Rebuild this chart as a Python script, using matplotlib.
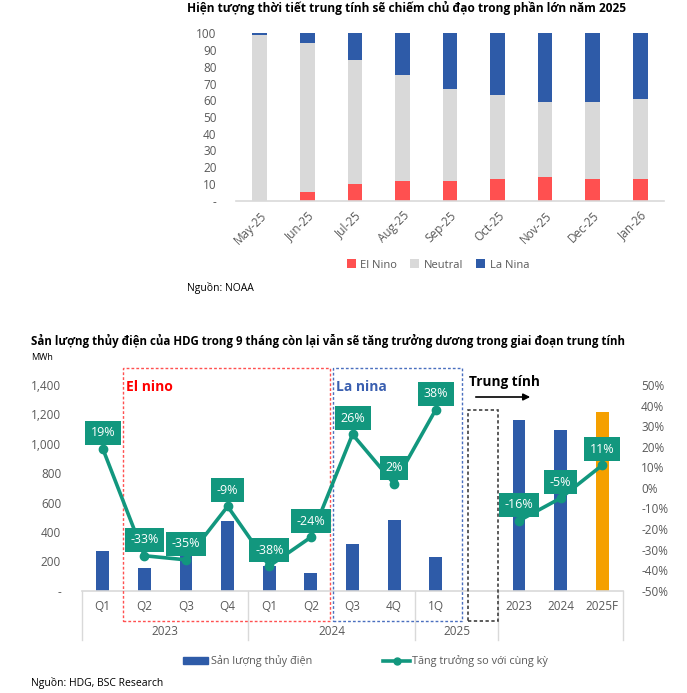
import numpy as np
import matplotlib.pyplot as plt
from matplotlib.patches import Rectangle
from matplotlib.lines import Line2D
import matplotlib.transforms as mtransforms

plt.rcParams['font.family'] = ['Open Sans', 'DejaVu Sans']

# top chart data (NOAA probabilities, %)
months = ['May-25', 'Jun-25', 'Jul-25', 'Aug-25', 'Sep-25', 'Oct-25', 'Nov-25', 'Dec-25', 'Jan-26']
el_nino = [0, 5, 10, 12, 12, 13, 14, 13, 13]
neutral = [99, 89, 74, 63, 55, 50, 45, 46, 48]
la_nina = [1, 6, 16, 25, 33, 37, 41, 41, 39]

# bottom chart data
periods = ['Q1', 'Q2', 'Q3', 'Q4', 'Q1', 'Q2', 'Q3', '4Q', '1Q', '', '2023', '2024', '2025F']
output = [270, 157, 270, 475, 168, 118, 318, 481, 229, np.nan, 1163, 1095, 1217]
growth = [19, -33, -35, -9, -38, -24, 26, 2, 38, np.nan, -16, -5, 11]
years = ['2023', '2024', '2025']
year_centers = [1.5, 5.5, 8.5]
separators = [-0.5, 3.5, 7.5, 9.5, 12.5]

RED = '#FF5050'
GREY = '#D9D9D9'
BLUE = '#2E5BA8'
ORANGE = '#F5A000'
TEAL = '#12977E'
TXT = '#595959'

W, H = 687, 693
fig = plt.figure(figsize=(W / 100, H / 100), dpi=100)


def fx(px):
    return px / W


def fy(py):
    return 1 - py / H


# ---------------- top chart ----------------
ax1 = fig.add_axes([fx(236), fy(200.7), fx(664 - 236), (200.7 - 33.3) / H])
x = np.arange(len(months))
ax1.bar(x, el_nino, 0.31, color=RED, label='El Nino')
ax1.bar(x, neutral, 0.31, bottom=el_nino, color=GREY, label='Neutral')
ax1.bar(x, la_nina, 0.31, bottom=np.add(el_nino, neutral), color=BLUE, label='La Nina')
ax1.set_xlim(-0.5, len(months) - 0.5)
ax1.set_ylim(0, 100)
ax1.set_yticks(range(0, 101, 10))
ax1.set_yticklabels(['-'] + [str(v) for v in range(10, 101, 10)], color=TXT, fontsize=8.5)
ax1.set_xticks(x)
ax1.set_xticklabels(months, rotation=45, ha='right', rotation_mode='anchor', color=TXT, fontsize=8.5)
ax1.tick_params(length=0)
ax1.tick_params(axis='y', pad=14)
ax1.tick_params(axis='x', pad=6)
for s in ['top', 'right', 'left']:
    ax1.spines[s].set_visible(False)
ax1.spines['bottom'].set_color(GREY)
ax1.spines['bottom'].set_linewidth(1.2)

fig.text(fx(187), fy(8), 'Hiện tượng thời tiết trung tính sẽ chiếm chủ đạo trong phần lớn năm 2025',
         fontsize=8.6, fontweight='bold', va='center', ha='left')
fig.legend(*ax1.get_legend_handles_labels(), loc='center', bbox_to_anchor=(fx(438), fy(265)),
           ncol=3, frameon=False, fontsize=8, handlelength=0.8, handleheight=0.8,
           columnspacing=1.2, handletextpad=0.4, labelcolor=TXT)
fig.text(fx(187), fy(288), 'Nguồn: NOAA', fontsize=7.5, va='center', ha='left')

# ---------------- bottom chart ----------------
ax = fig.add_axes([fx(82), fy(590.7), fx(623 - 82), 205.7 / H])
xb = np.arange(len(periods))
colors = [BLUE] * 12 + [ORANGE]
ax.bar(xb, output, 0.31, color=colors)
ax.set_xlim(-0.5, len(periods) - 0.5)
ax.set_ylim(0, 1400)
ax.set_yticks(range(0, 1401, 200))
ax.set_yticklabels(['-'] + [f'{v:,}' for v in range(200, 1401, 200)], color=TXT, fontsize=8.5)
ax.tick_params(length=0)
ax.tick_params(axis='y', pad=15)
ax.set_xticks([])
for s in ['top', 'right', 'left']:
    ax.spines[s].set_visible(False)
ax.spines['bottom'].set_color(GREY)
ax.spines['bottom'].set_linewidth(1.2)

ax2 = ax.twinx()
ax2.plot(xb, np.array(growth) / 100, color=TEAL, lw=2.6, marker='o', ms=6)
ax2.set_ylim(-0.5, 0.5)
ax2.set_yticks(np.arange(-0.5, 0.51, 0.1))
ax2.set_yticklabels([f'{round(v * 100)}%' for v in np.arange(-0.5, 0.51, 0.1)], color=TXT, fontsize=8.5)
ax2.tick_params(length=0, pad=13)
for s in ax2.spines.values():
    s.set_visible(False)
for xi, g in zip(xb, growth):
    if np.isnan(g):
        continue
    ax2.annotate(f'{g}%', (xi, g / 100), xytext=(0, 16), textcoords='offset pixels',
                 ha='center', va='center', color='white', fontsize=9,
                 bbox=dict(boxstyle='square,pad=0.45', fc=TEAL, ec='none'), zorder=5)

# two-level category axis
tr = mtransforms.blended_transform_factory(ax.transData, ax.transAxes)
for xi, p in zip(xb, periods):
    ax.text(xi, -0.079, p, transform=tr, ha='center', va='center', color=TXT, fontsize=8.5)
for xc, yl in zip(year_centers, years):
    ax.text(xc, -0.2, yl, transform=tr, ha='center', va='center', color=TXT, fontsize=8.5)
for sx in separators:
    ax.add_line(Line2D([sx, sx], [0, -0.24], transform=tr, color=GREY, lw=1, clip_on=False))

# regime boxes
ax.add_patch(Rectangle((0.49, -0.147), 5.46 - 0.49, 1.083 + 0.147, transform=tr, fill=False,
                       ec=RED, ls=(0, (2, 1.5)), lw=1, clip_on=False, zorder=6))
ax.add_patch(Rectangle((5.53, -0.147), 8.63 - 5.53, 1.083 + 0.147, transform=tr, fill=False,
                       ec='#4A6FBF', ls=(0, (2, 1.5)), lw=1, clip_on=False, zorder=6))
ax.add_patch(Rectangle((8.78, -0.147), 9.5 - 8.78, 0.878 + 0.147, transform=tr, fill=False,
                       ec='#404040', ls=(0, (2, 1.5)), lw=1.2, clip_on=False, zorder=6))
ax.text(0.56, 0.99, 'El nino', transform=tr, color='#FF0000', fontsize=10, fontweight='bold',
        ha='left', va='center')
ax.text(5.6, 0.99, 'La nina', transform=tr, color='#3A5FB0', fontsize=10, fontweight='bold',
        ha='left', va='center')
fig.text(fx(469), fy(382), 'Trung tính', fontsize=9.8, fontweight='bold', ha='left', va='center')
fig.add_artist(plt.Annotation('', xy=(fx(533), fy(397)), xytext=(fx(473), fy(397)),
                              xycoords='figure fraction', textcoords='figure fraction',
                              arrowprops=dict(arrowstyle='-|>', color='black', lw=1.2,
                                              mutation_scale=10)))

fig.text(fx(31), fy(341), 'Sản lượng thủy điện của HDG trong 9 tháng còn lại vẫn sẽ tăng trưởng dương trong giai đoạn trung tính',
         fontsize=8.3, fontweight='bold', ha='left', va='center')
fig.text(fx(31), fy(358), 'MWh', fontsize=6.5, ha='left', va='center')

# bottom legend, drawn by hand
fig.add_artist(Rectangle((fx(183), fy(664)), fx(25), 7 / H, color=BLUE, transform=fig.transFigure))
fig.text(fx(211), fy(661), 'Sản lượng thủy điện', fontsize=7.8, color=TXT, ha='left', va='center')
fig.add_artist(Line2D([fx(383), fx(410)], [fy(661), fy(661)], color=TEAL, lw=2.6,
                      transform=fig.transFigure))
fig.add_artist(Line2D([fx(396.5)], [fy(661)], color=TEAL, marker='o', ms=5,
                      transform=fig.transFigure))
fig.text(fx(412), fy(661), 'Tăng trưởng so với cùng kỳ', fontsize=7.8, color=TXT, ha='left', va='center')
fig.text(fx(31), fy(683), 'Nguồn: HDG, BSC Research', fontsize=7.5, ha='left', va='center')

fig.savefig('out.png', dpi=100)
